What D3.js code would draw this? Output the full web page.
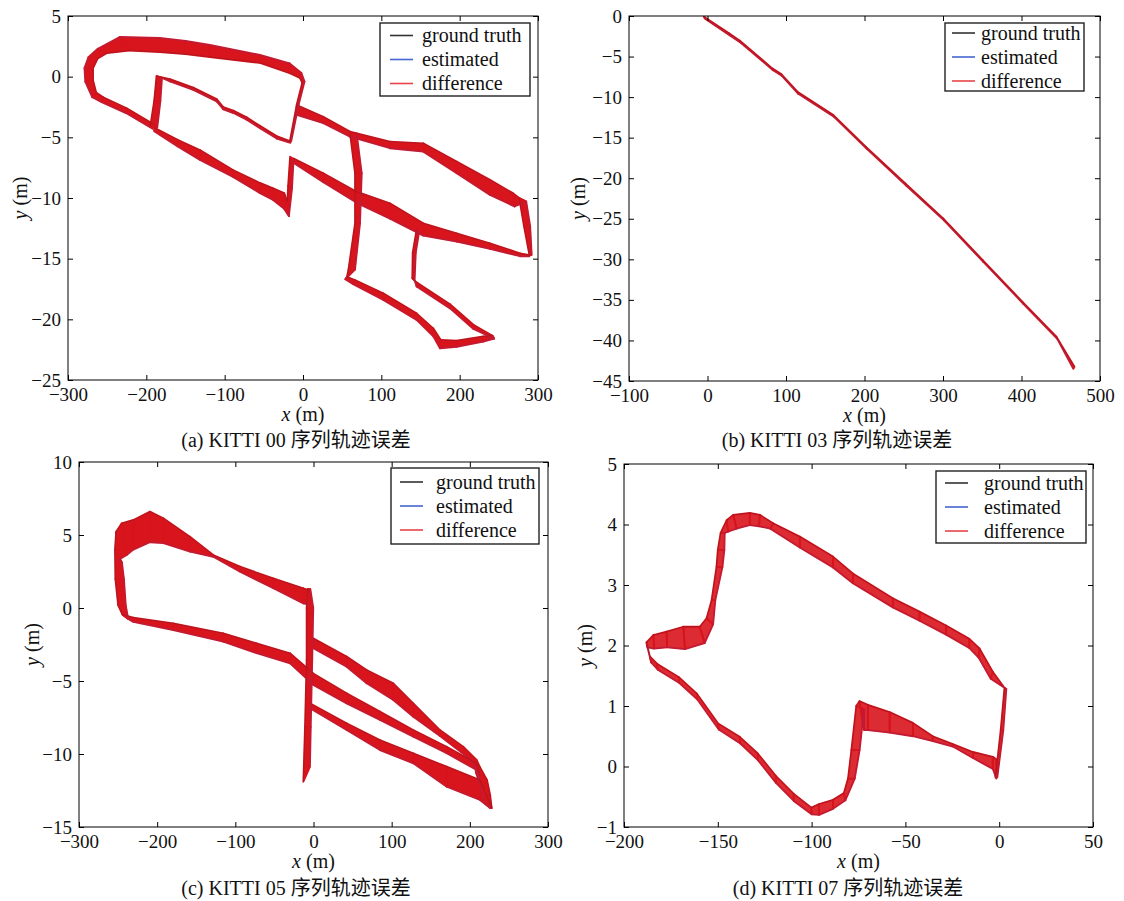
<!DOCTYPE html>
<html>
<head>
<meta charset="utf-8">
<script src="https://cdn.jsdelivr.net/npm/d3@7"></script>
<style>
body { margin: 0; background: #fff; }
</style>
</head>
<body>
<script>
"use strict";

// ---- data: ground truth / estimated trajectories, one list per road segment ----

// KITTI 00
var seq00Truth = [
    [[-190, -3.95], [-225, -2.6], [-255, -1.7], [-264, -1.3], [-268, -0.3], [-268, 0.7], [-262, 1.5], [-250, 1.95], [-222, 2.15], [-183, 2.03], [-150, 1.85], [-119, 1.62], [-55, 1.13], [-17, 0.28], [-4, -0.1], [-1, -0.5], [-8, -2.3], [-17, -5.4]],
    [[-16.6, -5.3], [-33.6, -4.9], [-54.9, -4.05], [-71.9, -3.35], [-88.9, -2.8], [-101.7, -2.5], [-110.2, -1.85], [-140, -0.9], [-169.8, -0.2], [-187, 0.05], [-190, -2.0], [-195, -4.1]],
    [[-190, -4.2], [-160, -5.2], [-131.5, -6.04], [-89.3, -7.69], [-54.9, -8.76], [-38, -9.2], [-24, -9.6], [-20, -10.3], [-19, -9.0], [-16.5, -6.6]],
    [[-12.4, -6.73], [26, -7.96], [68.5, -9.48], [111, -10.44], [153.6, -12.09], [196.2, -12.91], [238.7, -13.73], [277, -14.56], [289.8, -14.7]],
    [[289, -14.7], [282, -12.3], [276, -10.0], [268, -9.6], [238.7, -8.5], [196.2, -7.0], [153.6, -5.49], [111, -5.36], [60, -4.53], [26, -3.3], [-8, -2.34]],
    [[60, -4.67], [66.4, -7.96], [66.4, -12.09], [58, -15.9], [56, -16.5], [66.4, -16.76], [102.5, -17.86], [145, -19.51], [166.3, -20.74], [176, -21.7], [196.2, -21.75], [230.2, -21.4], [242, -21.35], [217.6, -20.45], [187.7, -18.75], [145, -16.95], [139.5, -16.6], [140, -14.5], [145, -12.6]]
];
var seq00Est = [
    [[-192, -4.3], [-226, -3.0], [-257, -2.1], [-269, -1.7], [-278, -0.4], [-279, 0.7], [-274, 1.6], [-262, 2.3], [-234, 3.27], [-183, 3.19], [-150, 2.95], [-119, 2.61], [-55, 1.79], [-17, 1.1], [-2, 0.3], [2, -0.4], [-5.5, -2.3], [-15, -5.3]],
    [[-16, -5.45], [-33.6, -5.1], [-54.9, -4.25], [-71.9, -3.55], [-88.9, -3.0], [-101.7, -2.7], [-110.2, -2.05], [-140, -1.1], [-169.8, -0.4], [-180, -0.1], [-182, -2.0], [-186, -4.2]],
    [[-190, -4.5], [-160, -5.75], [-131.5, -6.87], [-89.3, -8.27], [-54.9, -9.6], [-38.2, -10.17], [-24, -10.9], [-18, -11.5], [-14, -9.2], [-12, -6.8]],
    [[-12.4, -7.1], [26, -8.7], [68.5, -10.4], [111, -11.7], [153.6, -13.1], [196.2, -13.6], [238.7, -14.2], [277, -14.8], [289, -14.8]],
    [[292, -14.7], [290, -12.3], [285, -10.3], [270, -10.7], [238.7, -9.75], [196.2, -7.96], [153.6, -6.18], [111, -5.9], [60, -4.95], [26, -3.84], [-8, -3.16]],
    [[68.5, -4.67], [75, -7.96], [72.8, -12.09], [66.4, -15.9], [54, -16.7], [64, -17.1], [102.5, -18.4], [145, -20.05], [166.3, -21.4], [175, -22.4], [196.2, -22.26], [230.2, -21.84], [244, -21.6], [217.6, -20.8], [187.7, -19.1], [145, -17.3], [142.5, -16.8], [144, -14.5], [148.5, -12.7]]
];

// KITTI 03
var seq03Truth = [
    [[-4.6, -0.08], [27.5, -2.14], [41.3, -3.04], [82.5, -6.45], [94, -7.15], [114.6, -9.33], [160.4, -12.21], [201.6, -16.11], [252, -20.63], [300.2, -24.95], [350.6, -30.09], [401, -35.22], [444.5, -39.54], [467.5, -43.24]]
];
var seq03Est = [
    [[-3.6, -0.3], [28.5, -2.4], [42.3, -3.3], [83.5, -6.7], [95, -7.4], [115.6, -9.6], [161.4, -12.45], [202.6, -16.35], [253, -20.9], [301.2, -25.2], [351.6, -30.35], [402, -35.45], [445.5, -39.8], [466, -43.5]]
];

// KITTI 05
var seq05Truth = [
    [[-5.9, 1.23], [-13, 1.35], [-51.4, 2.03], [-94, 2.83], [-128.2, 3.63], [-158, 4.88], [-192.1, 6.14], [-209.2, 6.6], [-230.5, 6.03], [-245.4, 5.8], [-252.5, 5.23], [-254, 4.0], [-253.5, 2.0], [-250, 0.2], [-244.5, -0.45], [-230.5, -0.66], [-179.4, -1.05], [-115.4, -1.73], [-72.7, -2.42], [-30, -3.1], [-0.3, -4.48], [42.4, -5.84], [85, -7.1], [127.7, -8.36], [170.4, -9.5], [208.7, -10.64], [213, -11.5]],
    [[-0.3, -2.08], [42.4, -3.33], [68, -4.25], [102.1, -5.16], [127.7, -6.53], [161.8, -8.36], [191.6, -9.5], [208.7, -10.41], [213, -10.9], [222, -11.78], [226, -12.8], [228, -13.7], [213, -11.78], [170.4, -10.87], [127.7, -9.95], [85, -9.04], [42.4, -7.9], [-4.5, -6.53]],
    [[-7.3, 1.3], [-8.8, 0.0], [-8.8, -3.56], [-10.9, -8.13], [-13, -11.9]]
];
var seq05Est = [
    [[-4.5, 0.2], [-13, 0.32], [-51.4, 1.35], [-94, 2.49], [-128.2, 3.51], [-158, 3.86], [-192.1, 4.45], [-209.2, 4.5], [-230.5, 4.0], [-239, 3.63], [-249.7, 3.29], [-245, 3.1], [-242.5, 2.0], [-240.2, 0.2], [-237, -0.75], [-230.5, -0.95], [-179.4, -1.51], [-115.4, -2.31], [-72.7, -3.1], [-30, -3.79], [-0.3, -5.27], [42.4, -6.53], [85, -7.67], [127.7, -8.81], [170.4, -9.95], [208.7, -11.1], [213, -11.78]],
    [[-0.3, -2.76], [42.4, -4.02], [68, -5.16], [102.1, -6.3], [127.7, -7.45], [161.8, -8.77], [196, -10.18], [206, -10.7], [208, -11.3], [214, -12.3], [218, -13.2], [225.8, -13.7], [213, -13.15], [170.4, -12.24], [127.7, -10.64], [85, -9.73], [42.4, -8.36], [-4.5, -6.87]],
    [[-4, 1.3], [-0.3, 0.0], [-1.6, -3.56], [-3.5, -8.13], [-4.5, -10.87]]
];

// KITTI 07
var seq07Truth = [
    [[-2, -0.18], [0.8, 0.6], [2.8, 1.3], [-3.5, 1.57], [-10.5, 1.95], [-15.9, 2.11], [-28.3, 2.33], [-42.5, 2.56], [-56.7, 2.78], [-78, 3.19], [-88.6, 3.47], [-106.3, 3.80], [-120.5, 4.02], [-127.6, 4.16], [-132.9, 4.19], [-141.8, 4.16], [-145.3, 4.07], [-148.5, 3.86], [-150, 3.58], [-150.7, 3.3], [-153.3, 2.75], [-156, 2.45], [-159.6, 2.31], [-168.4, 2.31], [-177.3, 2.23], [-184.4, 2.17], [-188, 2.05], [-186.2, 1.82], [-182.4, 1.70], [-170.9, 1.48], [-161.3, 1.21], [-149.8, 0.71], [-138.3, 0.49], [-128.8, 0.22], [-119.2, -0.15], [-109.6, -0.45], [-100.1, -0.68], [-96, -0.62], [-88.6, -0.55], [-82.8, -0.44], [-80.6, -0.2], [-78.8, 0.27], [-76.2, 1.0], [-74.5, 1.08], [-70, 1.02], [-58.4, 0.9], [-46, 0.72], [-35.4, 0.5], [-24.7, 0.37], [-14, 0.24], [-3.4, 0.16], [-1.5, 0.12]]
];
var seq07Est = [
    [[-1, -0.18], [2.2, 0.6], [3.8, 1.28], [-4.5, 1.45], [-11, 1.8], [-16, 1.96], [-28.3, 2.18], [-42.5, 2.41], [-56.7, 2.63], [-78, 3.03], [-88.6, 3.29], [-106.3, 3.62], [-122, 3.93], [-128, 3.97], [-133, 3.99], [-140, 3.93], [-144.5, 3.88], [-146.3, 3.86], [-146.5, 3.58], [-147.5, 3.3], [-151.3, 2.75], [-152.5, 2.35], [-157, 2.04], [-167.5, 1.94], [-177, 1.97], [-184, 1.95], [-187.5, 1.97], [-185.5, 1.72], [-182, 1.6], [-170.5, 1.38], [-161, 1.11], [-149.5, 0.61], [-138, 0.38], [-128.5, 0.1], [-119, -0.27], [-109.5, -0.57], [-100, -0.79], [-96, -0.8], [-88.6, -0.7], [-82, -0.56], [-77, -0.2], [-74.4, 0.27], [-72, 0.95], [-72, 0.6], [-70, 0.6], [-58.4, 0.56], [-46, 0.5], [-35.4, 0.42], [-24.7, 0.33], [-14, 0.14], [-3.4, -0.04], [-1.5, -0.2]]
];

// tick values
var ticks00X = [-300, -200, -100, 0, 100, 200, 300];
var ticks00Y = [-25, -20, -15, -10, -5, 0, 5];
var ticks03X = [-100, 0, 100, 200, 300, 400, 500];
var ticks03Y = [-45, -40, -35, -30, -25, -20, -15, -10, -5, 0];
var ticks05X = [-300, -200, -100, 0, 100, 200, 300];
var ticks05Y = [-15, -10, -5, 0, 5, 10];
var ticks07X = [-200, -150, -100, -50, 0, 50];
var ticks07Y = [-1, 0, 1, 2, 3, 4, 5];

var legendLabels = ["ground truth", "estimated", "difference"];
var captions = ["(a) KITTI 00 序列轨迹误差", "(b) KITTI 03 序列轨迹误差", "(c) KITTI 05 序列轨迹误差", "(d) KITTI 07 序列轨迹误差"];

// ---- drawing ----
var serif = "Liberation Serif, Times New Roman, Times, DejaVu Serif, serif";
var truthColor = "#262626";
var estColor = "#2f4bd0";
var diffColor = "#d8141d";
var legendColors = ["#333333", "#4466d0", "#e84448"];
var fmt = d3.format("d");

var svg = d3.select("body").append("svg")
    .attr("width", 1124)
    .attr("height", 901);

svg.append("rect").attr("width", 1124).attr("height", 901).attr("fill", "#ffffff");

var panels = [
    {id: "a", left: 68, right: 538, top: 16, bottom: 380, xDomain: [-300, 300], yDomain: [-25, 5],
        xTicks: ticks00X, yTicks: ticks00Y, truth: seq00Truth, est: seq00Est, caption: captions[0],
        legend: {x: 380, y: 23, w: 150, h: 73, line: 10, text: 42}, yLabelX: 20, captionX: 296, captionY: 447, band: 1},
    {id: "b", left: 629, right: 1100, top: 16, bottom: 381, xDomain: [-100, 500], yDomain: [-45, 0],
        xTicks: ticks03X, yTicks: ticks03Y, truth: seq03Truth, est: seq03Est, caption: captions[1],
        legend: {x: 945, y: 23, w: 139, h: 68, line: 7, text: 36}, yLabelX: 578, captionX: 837, captionY: 447, band: 1},
    {id: "c", left: 79, right: 548, top: 462, bottom: 827, xDomain: [-300, 300], yDomain: [-15, 10],
        xTicks: ticks05X, yTicks: ticks05Y, truth: seq05Truth, est: seq05Est, caption: captions[2],
        legend: {x: 391, y: 468, w: 148, h: 76, line: 9, text: 45}, yLabelX: 32, captionX: 296, captionY: 895, band: 1},
    {id: "d", left: 624, right: 1093, top: 464, bottom: 827, xDomain: [-200, 50], yDomain: [-1, 5],
        xTicks: ticks07X, yTicks: ticks07Y, truth: seq07Truth, est: seq07Est, caption: captions[3],
        legend: {x: 936, y: 471, w: 150, h: 72, line: 9, text: 48}, yLabelX: 585, captionX: 848, captionY: 895, band: 0.9}
];

function styleAxis(sel) {
    sel.select(".domain").remove();
    sel.attr("font-family", serif).attr("font-size", 19);
    sel.selectAll(".tick line").attr("stroke", "#000").attr("stroke-width", 1);
    sel.selectAll(".tick text").attr("fill", "#111");
}

function drawPanel(p) {
    var x = d3.scaleLinear().domain(p.xDomain).range([p.left, p.right]);
    var y = d3.scaleLinear().domain(p.yDomain).range([p.bottom, p.top]);
    var g = svg.append("g");

    g.append("clipPath").attr("id", "clip-" + p.id)
        .append("rect")
        .attr("x", p.left).attr("y", p.top)
        .attr("width", p.right - p.left).attr("height", p.bottom - p.top);

    var plot = g.append("g").attr("clip-path", "url(#clip-" + p.id + ")");
    var line = d3.line().x(function (d) { return x(d[0]); }).y(function (d) { return y(d[1]); });

    // difference band: area swept between matching truth / estimate samples
    var quads = [];
    var pairs = [];
    p.truth.forEach(function (seg, k) {
        var est = p.est[k];
        for (var i = 0; i < seg.length; i++) {
            pairs.push([seg[i], est[i]]);
            if (i < seg.length - 1) {
                quads.push([seg[i], seg[i + 1], est[i + 1], est[i]]);
            }
        }
    });

    plot.selectAll("path.band")
        .data(quads)
        .enter()
        .append("path")
        .attr("class", "band")
        .attr("d", function (d) { return line(d) + "Z"; })
        .attr("fill", diffColor)
        .attr("fill-opacity", p.band)
        .attr("stroke", diffColor)
        .attr("stroke-linejoin", "round")
        .attr("stroke-width", 1.8);

    plot.selectAll("line.diff")
        .data(pairs)
        .enter()
        .append("line")
        .attr("class", "diff")
        .attr("x1", function (d) { return x(d[0][0]); })
        .attr("y1", function (d) { return y(d[0][1]); })
        .attr("x2", function (d) { return x(d[1][0]); })
        .attr("y2", function (d) { return y(d[1][1]); })
        .attr("stroke", diffColor)
        .attr("stroke-width", 1.2);

    plot.selectAll("path.truth")
        .data(p.truth)
        .enter()
        .append("path")
        .attr("class", "truth")
        .attr("d", line)
        .attr("fill", "none")
        .attr("stroke", truthColor)
        .attr("stroke-opacity", 0.45)
        .attr("stroke-width", 0.5);

    plot.selectAll("path.est")
        .data(p.est)
        .enter()
        .append("path")
        .attr("class", "est")
        .attr("d", line)
        .attr("fill", "none")
        .attr("stroke", estColor)
        .attr("stroke-opacity", 0.45)
        .attr("stroke-width", 0.5);

    // axes, ticks pointing inwards on all four sides
    g.append("g")
        .attr("transform", "translate(0," + p.bottom + ")")
        .call(d3.axisBottom(x).tickValues(p.xTicks).tickFormat(fmt).tickSizeInner(-5).tickSizeOuter(0).tickPadding(8))
        .call(styleAxis);
    g.append("g")
        .attr("transform", "translate(0," + p.top + ")")
        .call(d3.axisTop(x).tickValues(p.xTicks).tickSizeInner(-5).tickSizeOuter(0).tickFormat(""))
        .call(styleAxis);
    g.append("g")
        .attr("transform", "translate(" + p.left + ",0)")
        .call(d3.axisLeft(y).tickValues(p.yTicks).tickFormat(fmt).tickSizeInner(-5).tickSizeOuter(0).tickPadding(7))
        .call(styleAxis);
    g.append("g")
        .attr("transform", "translate(" + p.right + ",0)")
        .call(d3.axisRight(y).tickValues(p.yTicks).tickSizeInner(-5).tickSizeOuter(0).tickFormat(""))
        .call(styleAxis);

    g.append("rect")
        .attr("x", p.left).attr("y", p.top)
        .attr("width", p.right - p.left).attr("height", p.bottom - p.top)
        .attr("fill", "none")
        .attr("stroke", "#000")
        .attr("stroke-width", 1);

    // legend
    var lg = g.append("g").attr("transform", "translate(" + p.legend.x + "," + p.legend.y + ")");
    lg.append("rect")
        .attr("width", p.legend.w).attr("height", p.legend.h)
        .attr("fill", "#fff")
        .attr("stroke", "#222")
        .attr("stroke-width", 1.4);
    var rows = lg.selectAll("g.row")
        .data(legendLabels)
        .enter()
        .append("g")
        .attr("class", "row")
        .attr("transform", function (d, i) { return "translate(0," + (p.legend.h / 2 + (i - 1) * 24) + ")"; });
    rows.append("line")
        .attr("x1", p.legend.line).attr("x2", p.legend.line + 23)
        .attr("stroke", function (d, i) { return legendColors[i]; })
        .attr("stroke-width", 1.6);
    rows.append("text")
        .attr("x", p.legend.text)
        .attr("dy", "0.33em")
        .attr("font-family", serif)
        .attr("font-size", 20)
        .attr("fill", "#111")
        .text(function (d) { return d; });

    // axis titles
    var xl = g.append("text")
        .attr("x", (p.left + p.right) / 2)
        .attr("y", p.bottom + 41)
        .attr("text-anchor", "middle")
        .attr("font-family", serif)
        .attr("font-size", 20)
        .attr("fill", "#111");
    xl.append("tspan").attr("font-style", "italic").text("x");
    xl.append("tspan").text(" (m)");

    var yl = g.append("text")
        .attr("transform", "translate(" + p.yLabelX + "," + (p.top + p.bottom) / 2 + ") rotate(-90)")
        .attr("dy", "0.35em")
        .attr("text-anchor", "middle")
        .attr("font-family", serif)
        .attr("font-size", 20)
        .attr("fill", "#111");
    yl.append("tspan").attr("font-style", "italic").text("y");
    yl.append("tspan").text(" (m)");

    g.append("text")
        .attr("x", p.captionX)
        .attr("y", p.captionY)
        .attr("text-anchor", "middle")
        .attr("font-family", serif + ", Noto Sans CJK SC")
        .attr("font-size", 20)
        .attr("fill", "#111")
        .text(p.caption);
}

panels.forEach(drawPanel);
</script>
</body>
</html>
